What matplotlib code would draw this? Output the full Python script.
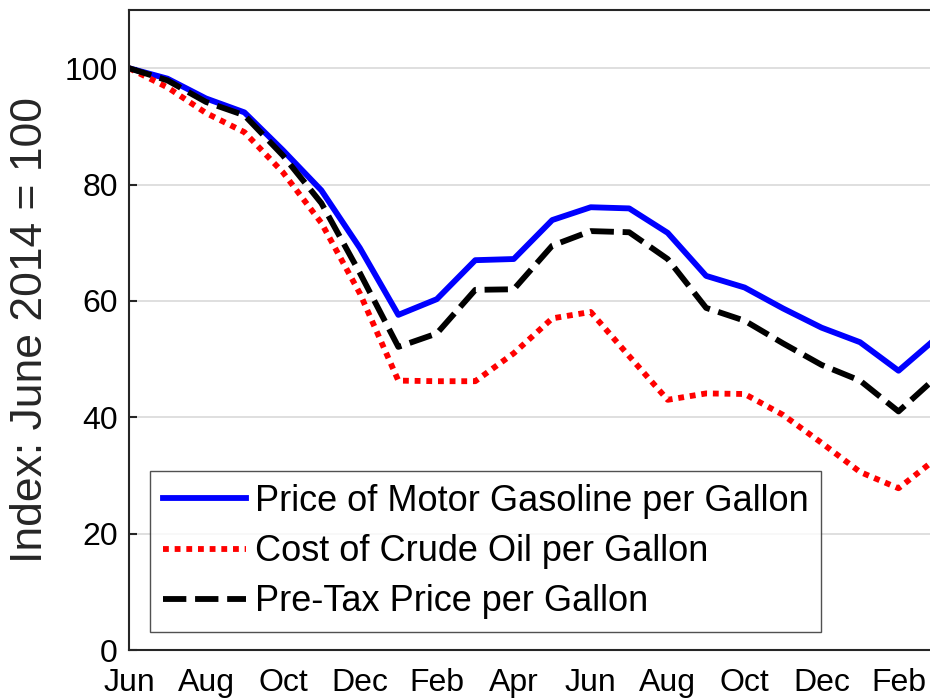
import numpy as np
import matplotlib
matplotlib.use('Agg')
import matplotlib.pyplot as plt

# Monthly data, June 2014 through March 2016 (index: June 2014 = 100)
months = ['Jun', 'Jul', 'Aug', 'Sep', 'Oct', 'Nov', 'Dec', 'Jan', 'Feb', 'Mar', 'Apr', 'May',
          'Jun', 'Jul', 'Aug', 'Sep', 'Oct', 'Nov', 'Dec', 'Jan', 'Feb', 'Mar']
gasoline = [100, 98.2, 94.8, 92.4, 85.9, 79.0, 69.1, 57.6, 60.3, 67.0, 67.2, 73.9,
            76.1, 75.9, 71.7, 64.3, 62.3, 58.7, 55.4, 52.9, 48.0, 53.7]
crude = [100, 96.7, 92.3, 89.0, 82.1, 73.4, 61.3, 46.3, 46.2, 46.2, 51.0, 57.0,
         58.1, 50.5, 43.0, 44.1, 44.0, 40.4, 35.6, 30.6, 27.8, 33.0]
pretax = [100, 97.9, 94.2, 91.9, 85.0, 76.8, 64.8, 52.1, 54.4, 61.9, 62.0, 69.5,
          72.0, 71.8, 67.2, 58.8, 56.6, 52.7, 49.0, 46.3, 41.0, 47.0]

tick_pos = list(range(0, 21, 2))
tick_labels = [months[i] for i in tick_pos]

plt.rcParams['font.family'] = ['Liberation Sans', 'DejaVu Sans']

fig = plt.figure(figsize=(9.3, 7), dpi=100)
ax = fig.add_axes([129 / 930, 50 / 700, (937 - 129) / 930, 640 / 700])

x = np.arange(len(months))
ax.plot(x, gasoline, color='#0000ff', lw=4.2,
        label='Price of Motor Gasoline per Gallon')
ax.plot(x, crude, color='#ff0000', lw=4.2, linestyle=(0, (1, 1)),
        label='Cost of Crude Oil per Gallon')
ax.plot(x, pretax, color='black', lw=4.2, linestyle=(0, (4, 1.5)),
        label='Pre-Tax Price per Gallon')

ax.set_xlim(0, 21)
ax.set_ylim(0, 110)
ax.set_yticks([0, 20, 40, 60, 80, 100])
ax.set_xticks(tick_pos)
ax.set_xticklabels(tick_labels)
ax.yaxis.grid(True, color='#d9d9d9', lw=1.2)
ax.set_axisbelow(True)
ax.tick_params(axis='both', direction='in', length=6, width=1.5, colors='#262626',
               labelsize=23, labelcolor='black', pad=8)
ax.tick_params(axis='x', length=0, pad=13)
for sp in ax.spines.values():
    sp.set_linewidth(1.5)
    sp.set_color('#262626')

ax.set_ylabel('Index: June 2014 = 100', fontsize=32, color='#262626', labelpad=10)

leg = ax.legend(loc='lower left', bbox_to_anchor=(0.026, 0.028),
                prop={'size': 26}, frameon=True, fancybox=False,
                handlelength=2.3, handletextpad=0.25, borderpad=0.35,
                labelspacing=0.42, borderaxespad=0)
leg.get_frame().set_edgecolor('#262626')
leg.get_frame().set_linewidth(1.0)

fig.savefig('out.png', dpi=100)
